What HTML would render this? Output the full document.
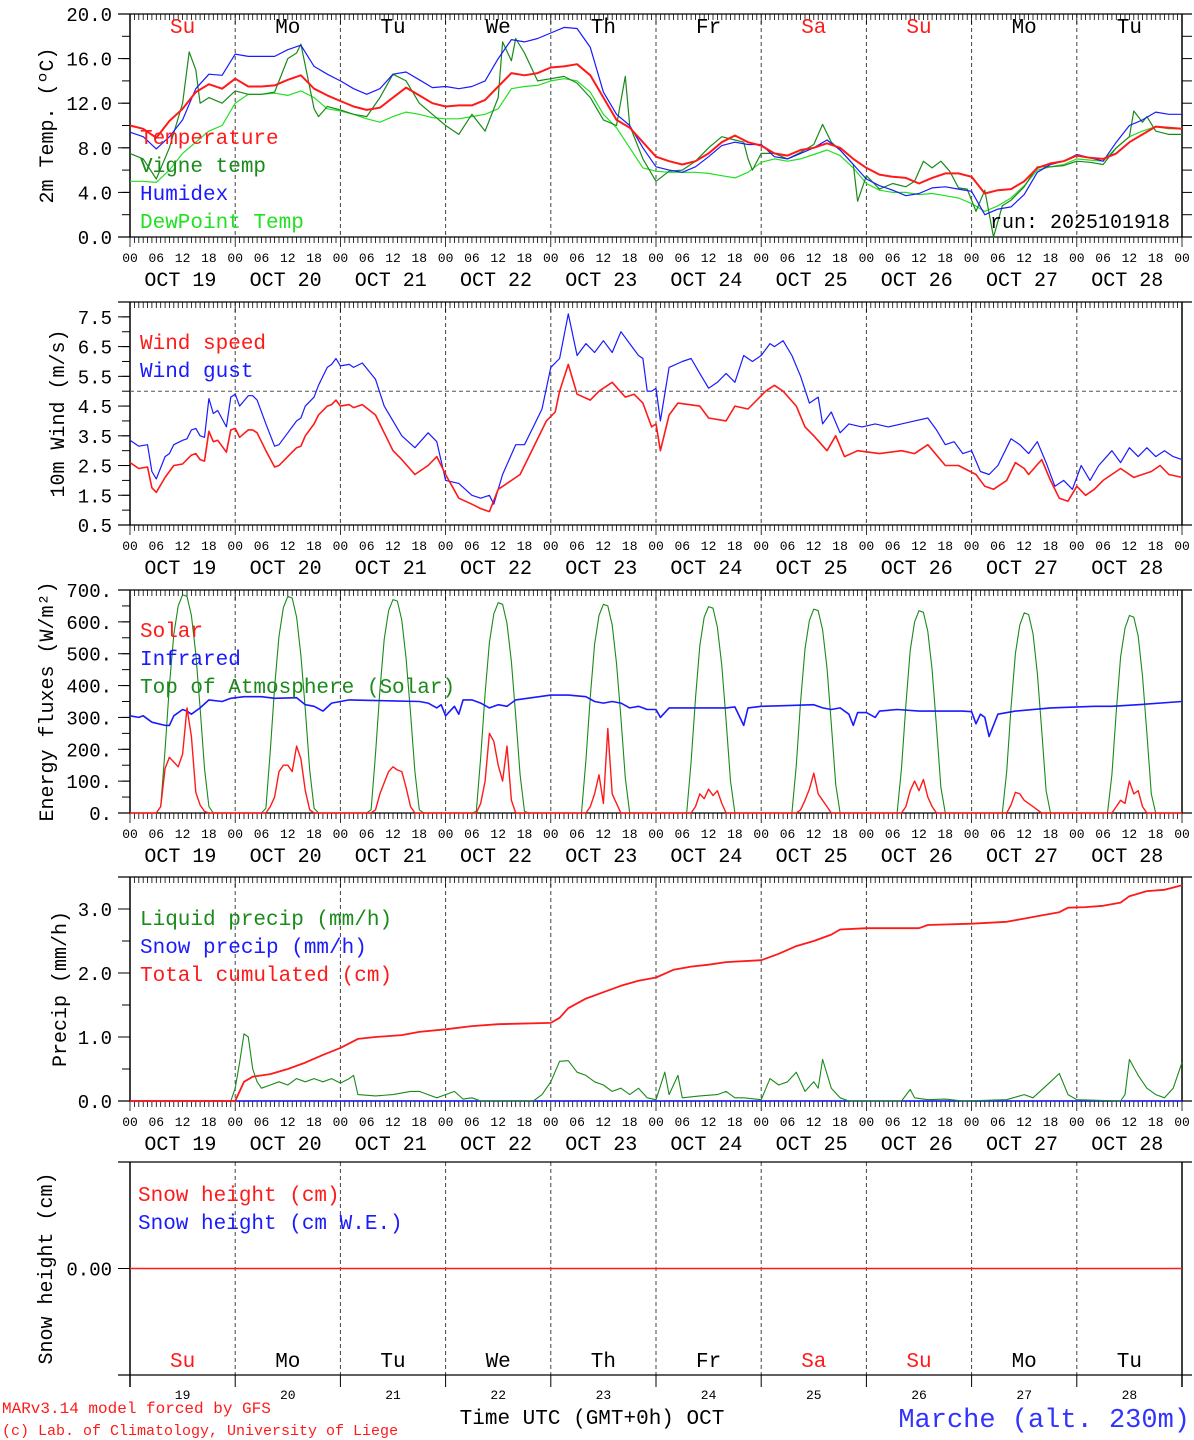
<!DOCTYPE html>
<html><head><meta charset="utf-8">
<style>
html,body{margin:0;padding:0;background:#fff;}
svg{display:block;font-family:"Liberation Mono","DejaVu Sans Mono",monospace;}
</style></head>
<body>
<svg id="chart" width="1194" height="1440" viewBox="0 0 1194 1440" xmlns="http://www.w3.org/2000/svg"></svg>
<script>
// ---------- data (hours since Oct 19 00 UTC, values) ----------
const dayNames = ["Su","Mo","Tu","We","Th","Fr","Sa","Su","Mo","Tu"];
const dayNums = ["19","20","21","22","23","24","25","26","27","28"];
const hourLabels = ["00","06","12","18"];

const tempH = [0,3,6,9,12,15,18,21,24,27,30,33,36,39,42,45,48,51,54,57,60,63,66,69,72,75,78,81,84,87,90,93,96,99,102,105,108,111,114,117,120,123,126,129,132,135,138,141,144,147,150,153,156,159,162,165,168,171,174,177,180,183,186,189,192,195,198,201,204,207,210,213,216,219,222,225,228,231,234,237,240];
const tempV = [10.0,9.7,8.9,10.4,11.5,13.0,13.7,13.3,14.2,13.5,13.5,13.6,14.1,14.5,13.3,12.7,12.2,11.7,11.4,11.6,12.5,13.4,12.7,12.0,11.7,11.8,11.8,12.3,13.5,14.7,14.5,14.7,15.2,15.3,15.5,14.5,12.5,10.5,9.8,8.5,7.2,6.8,6.5,6.8,7.5,8.5,9.1,8.5,8.2,7.5,7.3,7.8,8.0,8.4,8.0,7.0,6.2,5.6,5.4,5.3,4.8,5.3,5.7,5.7,5.4,3.9,4.2,4.3,5.0,6.2,6.6,6.8,7.3,7.1,7.0,7.5,8.5,9.2,9.9,9.8,9.7];
const humidexV = [9.4,9.0,7.9,9.0,10.5,13.3,14.6,14.5,16.4,16.2,16.2,16.2,16.8,17.2,15.3,14.6,14.0,13.3,12.8,13.3,14.6,14.8,14.1,13.4,13.5,13.3,13.5,14.0,16.0,17.7,17.5,17.8,18.3,18.8,18.7,17.0,13.0,11.0,10.0,8.0,6.3,6.0,5.8,6.3,7.2,8.2,8.5,8.3,8.3,7.2,7.0,7.5,8.0,8.7,7.8,6.5,5.2,4.6,4.2,3.7,3.9,4.4,4.5,4.3,4.1,2.0,2.5,2.7,3.8,5.8,6.5,6.8,7.4,7.1,6.8,8.5,10.0,10.5,11.2,11.0,11.0];
const dewV = [5.0,5.0,4.9,6.0,7.5,8.5,9.5,10.0,12.0,12.8,12.8,12.9,12.7,13.1,12.5,11.5,11.3,11.0,10.6,10.3,10.8,11.2,11.0,10.7,10.6,10.6,10.8,11.0,11.5,13.3,13.5,13.6,14.0,14.2,14.0,13.0,11.0,9.8,8.0,6.2,5.9,5.8,5.8,5.8,5.7,5.5,5.3,5.8,6.7,7.0,6.8,7.0,7.4,7.8,7.3,6.2,4.8,4.2,4.0,4.0,3.8,3.9,3.7,3.5,3.0,2.3,2.8,3.5,4.6,6.0,6.3,6.5,7.0,6.9,6.8,8.0,9.0,9.5,9.9,9.7,9.7];
const vigneH = [0,3,6,9,12,13.5,15,16,18,21,24,27,30,33,36,38,39,42,43,45,48,51,54,57,60,63,66,69,72,75,78,81,84,85,87,88,90,93,96,99,102,105,108,111,113,114,117,120,123,126,129,132,135,138,140,141,142,144,147,150,153,156,158,160,162,165,166,168,171,174,177,179,181,183,185,187,189,191,193,195,197,199,201,204,207,210,213,216,219,222,225,228,229,231,232,234,237,240];
const vigneV = [7.5,7.0,5.2,8.0,12.0,16.6,15.0,12.0,12.5,12.0,13.1,12.8,12.8,13.0,16.0,16.5,17.3,11.5,10.8,11.7,11.4,11.0,10.8,12.5,14.6,14.0,12.0,11.0,10.0,9.2,11.0,9.5,12.5,17.5,15.8,17.8,16.5,14.0,14.2,14.4,13.8,12.5,10.5,10.0,14.4,10.0,7.0,5.0,5.9,6.0,6.8,8.0,9.0,8.7,8.5,7.0,6.0,7.5,7.5,7.0,7.6,8.3,10.1,8.5,7.8,6.5,3.2,5.5,4.3,4.8,4.5,5.0,6.8,6.2,6.8,5.9,4.4,4.3,2.3,4.2,0.0,2.8,3.3,4.5,6.3,6.3,6.4,6.8,6.7,6.5,8.0,9.0,11.3,10.3,10.8,9.5,9.2,9.2];

const windH = [0,2,4,5,6,8,10,12,14,15,16,17,18,19,20,22,23,24,25,27,28,29,31,33,34,36,38,39,40,42,43,45,46,47,48,50,51,53,56,58,60,62,65,68,70,72,75,78,80,82,84,86,89,91,95,97,98,100,102,105,107,110,113,115,117,119,120,121,123,125,130,132,136,138,141,145,147,149,152,154,156,159,161,163,166,171,176,179,182,186,189,193,195,197,200,202,204,205,208,210,212,214,216,218,220,222,226,229,233,235,237,240];
const windV = [2.6,2.4,2.45,1.75,1.6,2.1,2.5,2.55,2.85,2.9,2.7,2.65,3.65,3.3,3.35,2.95,3.7,3.75,3.45,3.7,3.7,3.6,3.0,2.45,2.5,2.8,3.1,3.15,3.5,3.9,4.2,4.5,4.55,4.7,4.5,4.55,4.45,4.55,4.2,3.6,3.0,2.7,2.2,2.5,2.8,2.2,1.4,1.2,1.05,0.95,1.7,1.9,2.2,2.8,4.0,4.3,5.0,5.9,4.9,4.7,5.0,5.3,4.8,4.9,4.6,3.8,3.9,3.0,4.2,4.6,4.5,4.1,4.0,4.5,4.4,5.0,5.2,5.0,4.5,3.8,3.5,3.0,3.5,2.8,3.0,2.9,3.0,2.9,3.2,2.5,2.5,2.2,1.8,1.7,2.0,2.6,2.4,2.2,2.7,2.0,1.4,1.3,1.8,1.5,1.7,2.0,2.4,2.1,2.3,2.5,2.2,2.1];
const gustH = [0,2,4,5,6,8,9,10,12,13,14,15,16,17,18,19,20,22,23,24,25,27,28,29,31,33,34,36,38,39,40,42,43,45,46,47,48,50,51,53,56,58,60,62,65,68,70,72,75,78,80,82,83,85,88,90,92,94,96,98,100,102,104,106,108,110,112,114,116,117,118,119,120,121,123,126,128,130,132,134,136,138,140,142,144,146,147,149,151,153,155,157,158,160,162,164,167,170,173,176,179,182,184,186,188,190,192,194,196,198,201,203,205,207,209,211,213,215,217,219,221,224,226,228,230,232,234,236,238,240];
const gustV = [3.35,3.15,3.2,2.3,2.05,2.8,2.9,3.2,3.35,3.4,3.7,3.75,3.5,3.45,4.75,4.25,4.35,3.8,4.8,4.9,4.5,4.85,4.85,4.7,3.9,3.15,3.2,3.6,4.0,4.1,4.5,4.8,5.2,5.8,5.9,6.1,5.85,5.9,5.8,5.95,5.4,4.5,4.0,3.5,3.1,3.6,3.3,2.0,1.9,1.5,1.4,1.5,1.2,2.2,3.2,3.2,3.8,4.4,5.8,6.1,7.6,6.2,6.6,6.3,6.7,6.3,7.0,6.6,6.2,6.1,5.0,5.0,5.1,4.0,5.8,6.0,6.1,5.6,5.1,5.3,5.6,5.3,6.2,6.0,6.2,6.6,6.5,6.7,6.2,5.5,4.6,4.8,3.9,4.3,3.6,3.9,3.8,3.9,3.8,3.9,4.0,4.1,3.7,3.2,3.3,2.9,3.0,2.3,2.2,2.5,3.4,3.2,2.9,3.3,2.6,1.8,2.0,1.7,2.5,2.0,2.5,3.0,2.6,3.1,2.8,3.1,2.8,3.0,2.8,2.7];

// energy: per-day hours 5..19 (15 values per day)
const energyDayHours = [5,6,7,8,9,10,11,12,13,14,15,16,17,18,19];
const toaDays = [
 [0,0,20,200,400,560,650,685,680,620,500,330,140,20,0],
 [0,0,15,195,395,555,645,680,675,615,495,325,135,15,0],
 [0,0,10,185,385,545,635,670,665,605,485,315,130,10,0],
 [0,0,5,175,375,535,625,660,655,595,475,305,120,5,0],
 [0,0,0,165,365,530,620,655,650,590,470,300,110,0,0],
 [0,0,0,160,360,525,615,648,643,583,463,290,100,0,0],
 [0,0,0,150,350,515,605,640,635,575,455,280,90,0,0],
 [0,0,0,140,340,510,600,635,630,570,450,270,80,0,0],
 [0,0,0,130,330,500,590,628,623,563,440,260,70,0,0],
 [0,0,0,120,320,490,580,620,615,555,430,250,60,0,0]];
const solarDays = [
 [0,0,20,140,175,160,145,185,330,240,65,25,5,0,0],
 [0,0,0,20,50,130,150,150,130,210,170,70,10,0,0],
 [0,0,0,10,60,95,130,145,135,130,80,20,0,0,0],
 [0,0,0,30,100,250,225,150,100,210,40,0,0,0,0],
 [0,0,0,0,20,60,120,30,265,60,30,0,0,0,0],
 [0,0,0,0,20,60,45,75,55,70,30,0,0,0,0],
 [0,0,0,0,10,40,75,125,60,40,20,0,0,0,0],
 [0,0,0,0,20,70,100,70,105,50,20,0,0,0,0],
 [0,0,0,0,25,65,60,40,30,20,10,0,0,0,0],
 [0,0,0,0,20,40,30,100,60,70,20,0,0,0,0]];
const irH = [0,2,3,5,8,9,10,12,13,14,16,18,21,23,26,30,33,38,40,42,44,46,50,60,66,68,70,71,72,74,75,76,78,80,82,84,86,88,96,100,104,106,108,110,112,114,116,118,120,121,123,130,136,138,140,141,144,150,156,158,160,162,164,165,166,168,170,171,175,180,190,192,193,194,195,196,198,202,210,220,224,230,240];
const irV = [305,300,305,285,275,275,305,325,320,310,330,355,350,360,365,365,360,362,340,335,320,345,355,352,350,345,330,340,305,335,310,355,355,345,330,340,335,355,370,370,365,350,345,350,345,330,335,325,325,300,330,330,330,333,275,330,335,337,340,330,325,330,310,275,315,315,300,320,325,320,320,318,280,310,300,240,310,320,330,335,335,340,350];

const liqH = [0,23,24,25,26,27,28,29,30,32,34,36,38,40,42,44,46,48,50,51,52,56,60,64,66,68,70,72,74,76,78,80,92,94,96,98,100,102,104,106,108,110,112,114,116,118,120,122,123,125,126,130,134,136,138,140,144,146,148,150,152,154,156,157,158,160,162,164,176,178,179,182,186,190,200,204,206,210,212,214,216,226,227,228,230,232,234,236,238,240];
const liqV = [0,0,0.2,0.6,1.05,1.0,0.5,0.3,0.2,0.25,0.3,0.25,0.35,0.3,0.35,0.3,0.35,0.28,0.35,0.4,0.1,0.08,0.1,0.15,0.15,0.1,0.05,0.1,0.15,0.03,0.05,0,0,0.1,0.3,0.62,0.63,0.45,0.4,0.3,0.25,0.15,0.2,0.1,0.2,0.05,0.02,0.45,0.1,0.4,0.05,0.08,0.1,0.15,0.05,0.05,0.02,0.35,0.25,0.3,0.45,0.15,0.3,0.2,0.65,0.2,0.05,0,0,0.18,0.05,0.02,0.03,0,0.02,0.1,0.05,0.3,0.43,0.1,0.02,0,0.1,0.65,0.4,0.2,0.1,0.05,0.2,0.6];
const cumH = [0,24,26,28,32,36,40,44,48,52,56,62,66,72,78,84,96,98,100,104,108,112,116,120,124,128,132,136,144,148,152,156,160,162,168,180,182,192,200,204,208,212,214,218,222,226,228,232,236,240];
const cumV = [0,0,0.3,0.38,0.42,0.5,0.6,0.72,0.83,0.97,1.0,1.03,1.08,1.12,1.17,1.2,1.22,1.3,1.45,1.6,1.7,1.8,1.88,1.93,2.05,2.1,2.13,2.17,2.2,2.3,2.42,2.5,2.6,2.68,2.7,2.7,2.75,2.77,2.8,2.85,2.9,2.95,3.02,3.03,3.05,3.1,3.2,3.28,3.3,3.37];
const snowH = [0,240];
const snowV = [0,0];

// ---------- drawing ----------
const NS="http://www.w3.org/2000/svg";
const svg=document.getElementById('chart');
const X0=130, X1=1182, HOURS=240;
const xs=h=>X0+h*(X1-X0)/HOURS;
function el(tag,attrs,parent){const e=document.createElementNS(NS,tag);for(const k in attrs)e.setAttribute(k,attrs[k]);(parent||svg).appendChild(e);return e;}
function txt(s,x,y,size,fill,anchor,parent){const t=el('text',{x:x,y:y,'font-size':size,fill:fill||'#000','text-anchor':anchor||'start'},parent);t.textContent=s;return t;}

const panels=[
 {name:'temp',top:14,bot:237,vmin:0,vmax:20,major:[0,4,8,12,16,20],minorStep:2,fmt:v=>v.toFixed(1),title:'2m Temp. (ºC)',tx:47,rightTicks:true},
 {name:'wind',top:302,bot:525,vmin:0.5,vmax:8.0,major:[0.5,1.5,2.5,3.5,4.5,5.5,6.5,7.5],minorStep:0.5,fmt:v=>v.toFixed(1),title:'10m Wind (m/s)',tx:58},
 {name:'energy',top:590,bot:813,vmin:0,vmax:700,major:[0,100,200,300,400,500,600,700],minorStep:50,fmt:v=>v+'.',title:'Energy fluxes (W/m²)',tx:47},
 {name:'precip',top:877,bot:1101,vmin:0,vmax:3.5,major:[0,1,2,3],minorStep:0.5,fmt:v=>v.toFixed(1),title:'Precip (mm/h)',tx:60},
 {name:'snow',top:1162,bot:1375,vmin:-1,vmax:1,major:[0],minorStep:0,fmt:v=>'0.00',title:'Snow height (cm)',tx:46,snow:true}
];
panels.forEach(p=>{p.y=v=>p.bot-(v-p.vmin)*(p.bot-p.top)/(p.vmax-p.vmin);});

panels.forEach((p,pi)=>{
  const g=el('g',{});
  
  
  for(let d=1;d<10;d++){
    const l=el('line',{x1:xs(d*24),x2:xs(d*24),y1:p.top,y2:p.bot,stroke:'#444','stroke-width':1,'stroke-dasharray':'4,3'},g);
    
    
  }
  el('line',{x1:118,x2:1192,y1:p.top,y2:p.top,stroke:'#000','stroke-width':1.2},g);
  el('line',{x1:118,x2:1192,y1:p.bot,y2:p.bot,stroke:'#000','stroke-width':1.2},g);
  el('line',{x1:X0,x2:X0,y1:p.top,y2:p.bot+(p.snow?12:0),stroke:'#000','stroke-width':1.5},g);
  el('line',{x1:X1,x2:X1,y1:p.top,y2:p.bot+(p.snow?12:0),stroke:'#000','stroke-width':1.5},g);
  if(!p.snow){
    let d='';
    for(let h=0;h<=HOURS;h++){
      const x=xs(h).toFixed(1);
      const L=(h%24===0)?10:6;
      d+=`M${x} ${p.top}v${L}M${x} ${p.bot}v${L}`;
    }
    el('path',{d:d,stroke:'#000','stroke-width':0.8,fill:'none'},g);
    const hl=el('g',{},g);
    
    
    for(let h=0;h<=HOURS;h+=6){
      txt(hourLabels[(h/6)%4],xs(h),p.bot+25,13,'#000','middle',hl);
    }
    for(let d=0;d<10;d++){
      txt('OCT '+dayNums[d],xs(d*24+11.5),p.bot+49,20,'#000','middle',hl);
    }
  } else {
    for(let d=0;d<=10;d++){
      el('line',{x1:xs(d*24),x2:xs(d*24),y1:p.bot,y2:p.bot+12,stroke:'#000','stroke-width':1},g);
    }
  }
  if(p.minorStep){
    for(let v=p.vmin;v<=p.vmax+1e-9;v+=p.minorStep){
      el('line',{x1:122,x2:X0,y1:p.y(v),y2:p.y(v),stroke:'#000','stroke-width':1},g);
      if(p.rightTicks) el('line',{x1:X1,x2:X1+10,y1:p.y(v),y2:p.y(v),stroke:'#000','stroke-width':1},g);
    }
  }
  const yl=el('g',{},g);
  
  
  p.major.forEach(v=>{
    el('line',{x1:118,x2:X0,y1:p.y(v),y2:p.y(v),stroke:'#000','stroke-width':1},g);
    txt(p.fmt(v),112,p.y(v)+7,19,'#000','end',yl);
  });
  const t=txt(p.title,0,0,20,'#000','middle',g);
  t.setAttribute('transform',`translate(${p.tx+6},${(p.top+p.bot)/2}) rotate(-90)`);
  
  
});

function line(p,H,V,color,w,name){
  let d='';
  for(let i=0;i<H.length;i++){d+=(i?'L':'M')+xs(H[i]).toFixed(1)+' '+p.y(V[i]).toFixed(1);}
  const e=el('path',{d:d,fill:'none',stroke:color,'stroke-width':w,'stroke-linejoin':'round'});
  
  
  return e;
}
function legend(items,x,y0){
  items.forEach((it,i)=>{
    const t=txt(it[0],x,y0+i*28,21,it[1],'start');
    
    
  });
}
const [P1,P2,P3,P4,P5]=panels;

line(P1,tempH,dewV,'#22e022',1.2,'dewpoint-line');
line(P1,vigneH,vigneV,'#1a8a1a',1.2,'vigne-temp-line');
line(P1,tempH,humidexV,'#1a1aff',1.2,'humidex-line');
line(P1,tempH,tempV,'#ff1a1a',2,'temperature-line');
legend([['Temperature','#ff1a1a'],['Vigne temp','#1a8a1a'],['Humidex','#1a1aff'],['DewPoint Temp','#22e022']],140,144);
dayNames.forEach((n,d)=>{const t=txt(n,xs(d*24+12),33,21,(n==='Su'||n==='Sa')?'#ff1a1a':'#000','middle');});
{const t=txt('run: 2025101918',990,228,20,'#000');}

{const l=el('line',{x1:X0,x2:X1,y1:P2.y(5),y2:P2.y(5),stroke:'#555','stroke-width':1,'stroke-dasharray':'4,3'});}
line(P2,gustH,gustV,'#1a1aff',1.2,'wind-gust-line');
line(P2,windH,windV,'#ff1a1a',1.6,'wind-speed-line');
legend([['Wind speed','#ff1a1a'],['Wind gust','#1a1aff']],140,349);

function flat(days){const H=[],V=[];days.forEach((arr,d)=>{energyDayHours.forEach((hh,i)=>{H.push(d*24+hh);V.push(arr[i]);});});H.unshift(0);V.unshift(0);H.push(240);V.push(0);return [H,V];}
const [toaH,toaV]=flat(toaDays);
const [solH,solV]=flat(solarDays);
line(P3,toaH,toaV,'#1a8a1a',1.1,'toa-solar-line');
line(P3,irH,irV,'#1a1aff',1.6,'infrared-line');
line(P3,solH,solV,'#ff1a1a',1.4,'solar-line');
legend([['Solar','#ff1a1a'],['Infrared','#1a1aff'],['Top of Atmosphere (Solar)','#1a8a1a']],140,637);

line(P4,[0,240],[0,0],'#1a1aff',1.5,'snow-precip-line');
line(P4,liqH,liqV,'#1a8a1a',1.1,'liquid-precip-line');
line(P4,cumH,cumV,'#ff1a1a',1.8,'total-cumulated-line');
legend([['Liquid precip (mm/h)','#1a8a1a'],['Snow precip (mm/h)','#1a1aff'],['Total cumulated (cm)','#ff1a1a']],140,925);

line(P5,snowH,snowV,'#ff1a1a',1.5,'snow-height-line');
legend([['Snow height (cm)','#ff1a1a'],['Snow height (cm W.E.)','#1a1aff']],138,1201);
dayNames.forEach((n,d)=>{const t=txt(n,xs(d*24+12),1367,21,(n==='Su'||n==='Sa')?'#ff1a1a':'#000','middle');});
dayNums.forEach((n,d)=>{const t=txt(n,xs(d*24+12),1399,13,'#000','middle');});

{let t=txt('MARv3.14 model forced by GFS',2,1413,16,'#ff1a1a');
 t=txt('(c) Lab. of Climatology, University of Liege',2,1435,15,'#ff1a1a');
 t=txt('Time UTC (GMT+0h) OCT',592,1424,21,'#000','middle');
 t=txt('Marche (alt. 230m)',1190,1427,27,'#3333ff','end');}
</script>
</body></html>
